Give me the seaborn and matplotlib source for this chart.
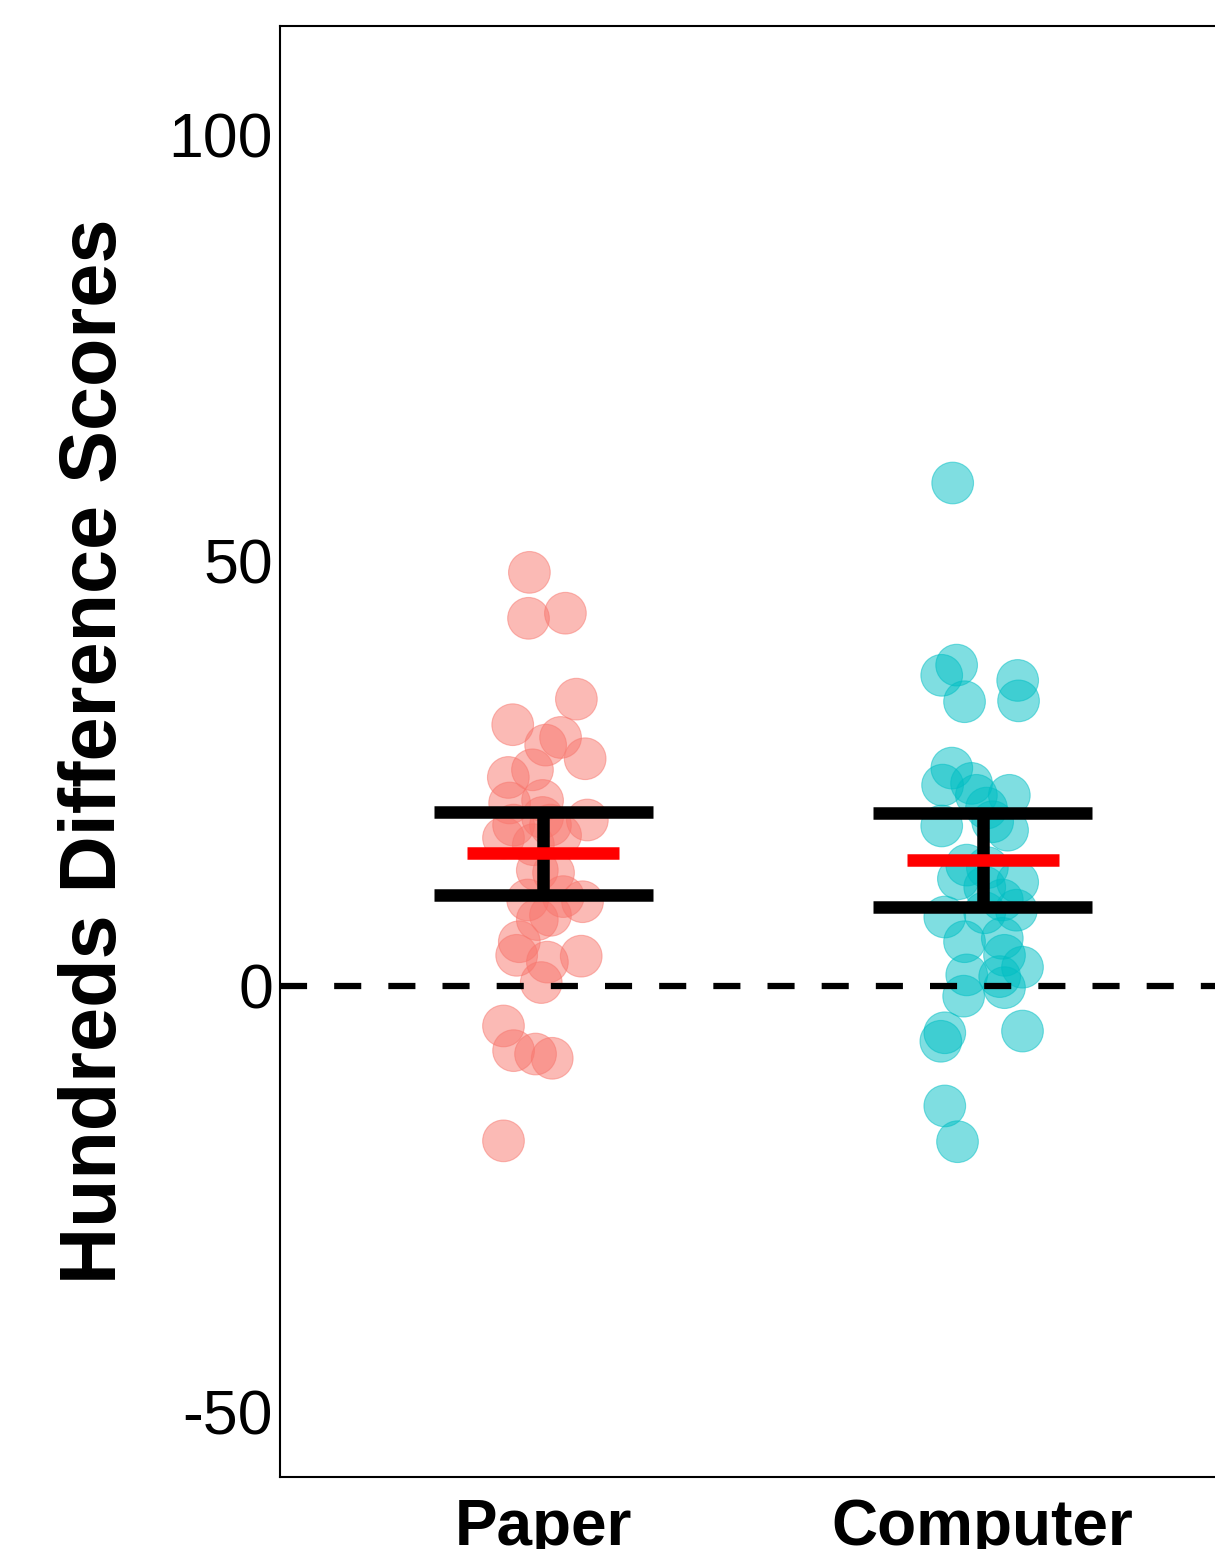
import matplotlib
matplotlib.use("Agg")
import matplotlib.pyplot as plt
import numpy as np
import pandas as pd
import seaborn as sns

# ---------------- data ----------------
groups = ["Paper", "Computer"]
group_colors = ["#F8766D", "#00BFC4"]

paper_scores = [48.6, 43.2, 43.8, 33.7, 30.7, 29.2, 28.3, 26.7, 25.4, 24.5,
                21.8, 21.5, 19.5, 17.4, 19.8, 18.9, 18.9, 17.7, 16.6, 13.6,
                13.3, 10.1, 10.5, 9.9, 7.8, 8.3, 5.2, 3.6, 2.8, 3.5,
                0.4, -4.7, -7.6, -8.0, -8.5, -18.2]
paper_jitter = [-0.032, -0.034, 0.050, 0.075, -0.070, 0.039, 0.005, 0.095, -0.025, -0.080,
                -0.002, -0.077, 0.100, -0.091, -0.002, -0.068, 0.016, 0.039, -0.023, -0.014,
                0.023, -0.036, 0.045, 0.089, -0.014, 0.016, -0.055, -0.061, 0.009, 0.086,
                -0.005, -0.091, -0.068, -0.018, 0.020, -0.091]

computer_scores = [59.1, 36.5, 37.7, 33.4, 35.9, 33.5, 25.6, 23.6, 23.8, 22.4,
                   22.4, 20.9, 18.8, 18.3, 19.3, 14.2, 13.9, 12.6, 12.2, 11.6,
                   10.1, 8.9, 8.1, 8.6, 5.2, 5.6, 3.6, 2.2, 1.3, 1.1,
                   -1.2, -0.2, -5.5, -6.5, -5.3, -14.1, -18.3]
computer_jitter = [-0.068, -0.093, -0.059, -0.041, 0.080, 0.082, -0.070, -0.091, -0.025, -0.014,
                   0.061, 0.009, -0.093, 0.057, 0.023, -0.036, 0.011, -0.055, 0.080, 0.005,
                   0.045, 0.077, -0.086, 0.005, -0.041, 0.045, 0.050, 0.091, -0.036, 0.039,
                   -0.043, 0.050, -0.086, -0.095, 0.091, -0.086, -0.057]

group_means = [15.6, 14.8]
ci_lower = [10.7, 9.3]
ci_upper = [20.4, 20.3]

y_ticks = [-50, 0, 50, 100]
y_label = "Hundreds Difference Scores"

# ---------------- build table ----------------
rows = []
for gi, (g, sc, jt) in enumerate(zip(groups, [paper_scores, computer_scores],
                                     [paper_jitter, computer_jitter])):
    for s, j in zip(sc, jt):
        rows.append({"group": g, "pos": gi + j, "score": s})
df = pd.DataFrame(rows)

# ---------------- style ----------------
sns.set_theme(style="white")
plt.rcParams["font.family"] = ["Liberation Sans", "DejaVu Sans"]
plt.rcParams["lines.scale_dashes"] = False

fig = plt.figure(figsize=(12.15, 15.49), dpi=100)
ax = fig.add_axes([280 / 1215, 1 - 1477 / 1549, 966 / 1215, (1477 - 26) / 1549])

sns.scatterplot(data=df, x="pos", y="score", hue="group",
                palette=dict(zip(groups, group_colors)),
                s=900, alpha=0.5, linewidth=0.8, edgecolor=None,
                legend=False, ax=ax, zorder=2)
for coll in ax.collections:
    coll.set_edgecolor(coll.get_facecolor())

ax.axhline(0, color="black", lw=4.5, dashes=(19.5, 19.5), zorder=3)

xpos = np.arange(len(groups))
ax.vlines(xpos, ci_lower, ci_upper, color="black", lw=9, zorder=4, capstyle="butt")
ax.hlines(ci_lower, xpos - 0.25, xpos + 0.25, color="black", lw=9, zorder=4, capstyle="butt")
ax.hlines(ci_upper, xpos - 0.25, xpos + 0.25, color="black", lw=9, zorder=4, capstyle="butt")
ax.hlines(group_means, xpos - 0.173, xpos + 0.173, color="#FF0000", lw=9, zorder=5, capstyle="butt")

ax.set_xlim(-0.6, 1.6)
ax.set_ylim(-57.7, 112.8)
ax.set_xticks(xpos)
ax.set_xticklabels(groups, fontsize=46, fontweight="bold", color="black")
ax.set_yticks(y_ticks)
ax.set_yticklabels([str(t) for t in y_ticks], fontsize=45, color="black")
ax.tick_params(axis="both", length=0)
ax.tick_params(axis="y", pad=5)
ax.tick_params(axis="x", pad=15)
ax.set_xlabel("")
ax.set_ylabel(y_label, fontsize=57, fontweight="bold", color="black")
ax.yaxis.set_label_coords(-0.152, 0.5)

for sp in ax.spines.values():
    sp.set_visible(True)
    sp.set_color("black")
    sp.set_linewidth(1.5)

fig.savefig("out.png", dpi=100)
